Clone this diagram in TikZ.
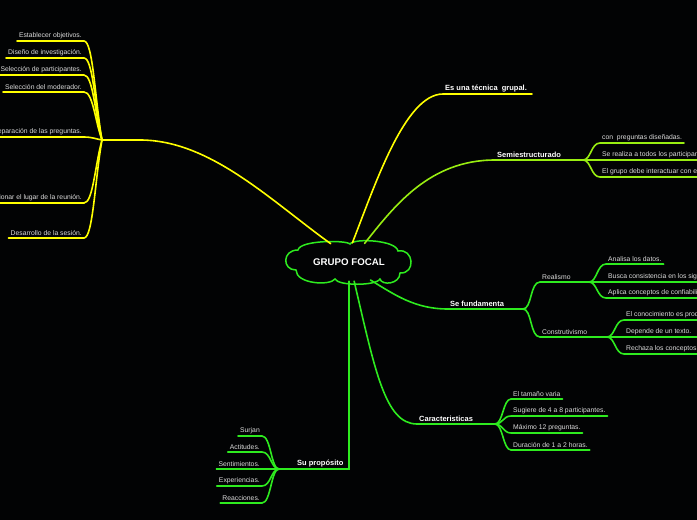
\documentclass[tikz,border=0pt]{standalone}
\usepackage{fontspec}
\setmainfont{Liberation Sans}
\usetikzlibrary{shapes.geometric, positioning}

\definecolor{fondo}{HTML}{020304}
\definecolor{amarillo}{HTML}{FFFF00}
\definecolor{lima}{HTML}{99EE11}
\definecolor{verde}{HTML}{2EEB1F}
\definecolor{texto}{HTML}{DCDCDC}

\begin{document}
\begin{tikzpicture}[
    x=1pt, y=-1pt,
    nube/.style={
        draw=verde,
        line width=1.5pt,
        fill=fondo
    },
    centro/.style={
        ellipse,
        minimum width=122pt,
        minimum height=38pt,
        inner sep=0pt,
        text=white,
        font=\bfseries\fontsize{9.7}{11}\selectfont
    },
    tema/.style={
        text=white,
        inner sep=2pt,
        font=\bfseries\fontsize{7.5}{9}\selectfont
    },
    hoja/.style={
        text=texto,
        inner sep=2pt,
        font=\fontsize{6.8}{8}\selectfont
    },
    rama/.style={line width=1.6pt, line cap=round}
]

\useasboundingbox (0,0) rectangle (697,520);
\fill[fondo] (0,0) rectangle (697,520);

% nodo central (nube dibujada a mano)
\draw[nube] (298,250) .. controls (300,240) and (346,240) .. (350,244)
    .. controls (354,238) and (396,240) .. (398,251)
    .. controls (414,248) and (416,274) .. (400,273)
    .. controls (400,284) and (382,286) .. (380,279)
    .. controls (376,286) and (338,286) .. (335,279)
    .. controls (330,286) and (296,284) .. (296,270)
    .. controls (282,270) and (282,250) .. cycle;
\node[centro] (gf) at (349,262) {GRUPO FOCAL};

% rama izquierda
\coordinate (hubI) at (102,140);
\node[hoja, anchor=south east] (i1) at (84,41) {Establecer objetivos.};
\node[hoja, anchor=south east] (i2) at (84,58) {Diseño de investigación.};
\node[hoja, anchor=south east] (i3) at (84,75) {Selección de participantes.};
\node[hoja, anchor=south east] (i4) at (84,92) {Selección del moderador.};
\node[hoja, anchor=south east] (i5) at (84,137) {Preparación de las preguntas.};
\node[hoja, anchor=south east] (i6) at (84,203) {Seleccionar el lugar de la reunión.};
\node[hoja, anchor=south east] (i7) at (84,238) {Desarrollo de la sesión.};

\draw[rama, amarillo] (gf.135) .. controls (270,200) and (210,140) .. (140,140) -- (hubI);
\draw[rama, amarillo] (hubI) .. controls (95,100) and (93,41) .. (i1.south east) -- (i1.south west);
\draw[rama, amarillo] (hubI) .. controls (95,107) and (93,58) .. (i2.south east) -- (i2.south west);
\draw[rama, amarillo] (hubI) .. controls (95,114) and (93,75) .. (i3.south east) -- (i3.south west);
\draw[rama, amarillo] (hubI) .. controls (95,121) and (93,92) .. (i4.south east) -- (i4.south west);
\draw[rama, amarillo] (hubI) .. controls (96,139) and (92,137) .. (i5.south east) -- (i5.south west);
\draw[rama, amarillo] (hubI) .. controls (95,165) and (93,203) .. (i6.south east) -- (i6.south west);
\draw[rama, amarillo] (hubI) .. controls (95,179) and (93,238) .. (i7.south east) -- (i7.south west);

% tecnica grupal
\node[tema, anchor=south west] (tec) at (443,94) {Es una técnica~ grupal.};
\draw[rama, amarillo] (gf.80) .. controls (375,185) and (405,94) .. (tec.south west) -- ([xshift=3pt]tec.south east);

% semiestructurado
\node[tema, anchor=south west] (semi) at (495,160) {Semiestructurado};
\coordinate (hubS) at (583,160);
\node[hoja, anchor=south west] (s1) at (600,143) {con~ preguntas diseñadas.};
\node[hoja, anchor=south west] (s2) at (600,160) {Se realiza a todos los participantes.};
\node[hoja, anchor=south west] (s3) at (600,177) {El grupo debe interactuar con el moderador.};

\draw[rama, lima] (gf.50) .. controls (395,205) and (430,160) .. (semi.south west) -- (hubS);
\draw[rama, lima] (hubS) .. controls (591,160) and (591,143) .. (s1.south west) -- (s1.south east);
\draw[rama, lima] (hubS) -- (s2.south west) -- (s2.south east);
\draw[rama, lima] (hubS) .. controls (591,160) and (591,177) .. (s3.south west) -- (s3.south east);

% se fundamenta
\node[tema, anchor=south west] (fund) at (448,309) {Se fundamenta};
\coordinate (hubF) at (523,309);
\node[hoja, anchor=south west] (real) at (540,282) {Realismo};
\coordinate (hubR) at (589,282);
\node[hoja, anchor=south west] (cons) at (540,337) {Construtivismo};
\coordinate (hubK) at (607,337);

\draw[rama, verde] (gf.-40) .. controls (395,295) and (415,309) .. (fund.south west) -- (hubF);
\draw[rama, verde] (hubF) .. controls (532,309) and (530,282) .. (real.south west) -- (hubR);
\draw[rama, verde] (hubF) .. controls (532,309) and (530,337) .. (cons.south west) -- (hubK);

\node[hoja, anchor=south west] (r1) at (606,264) {Analisa los datos.};
\node[hoja, anchor=south west] (r2) at (606,282) {Busca consistencia en los significados.};
\node[hoja, anchor=south west] (r3) at (606,298) {Aplica conceptos de confiabilidad.};
\draw[rama, verde] (hubR) .. controls (597,282) and (597,264) .. (r1.south west) -- (r1.south east);
\draw[rama, verde] (hubR) -- (r2.south west) -- (r2.south east);
\draw[rama, verde] (hubR) .. controls (597,282) and (597,298) .. (r3.south west) -- (r3.south east);

\node[hoja, anchor=south west] (k1) at (624,320) {El conocimiento es producido.};
\node[hoja, anchor=south west] (k2) at (624,337) {Depende de un texto.};
\node[hoja, anchor=south west] (k3) at (624,354) {Rechaza los conceptos de validez.};
\draw[rama, verde] (hubK) .. controls (615,337) and (615,320) .. (k1.south west) -- (k1.south east);
\draw[rama, verde] (hubK) -- (k2.south west) -- ([xshift=4pt]k2.south east);
\draw[rama, verde] (hubK) .. controls (615,337) and (615,354) .. (k3.south west) -- (k3.south east);

% caracteristicas
\node[tema, anchor=south west] (car) at (417,424) {Caracteristicas};
\coordinate (hubC) at (495,424);
\node[hoja, anchor=south west] (c1) at (511,399) {El tamaño varia};
\node[hoja, anchor=south west] (c2) at (511,416) {Sugiere de 4 a 8 participantes.};
\node[hoja, anchor=south west] (c3) at (511,433) {Máximo 12 preguntas.};
\node[hoja, anchor=south west] (c4) at (511,450) {Duración de 1 a 2 horas.};

\draw[rama, verde] (gf.-75) .. controls (375,370) and (385,424) .. (car.south west) -- (hubC);
\draw[rama, verde] (hubC) .. controls (503,424) and (503,399) .. (c1.south west) -- (c1.south east);
\draw[rama, verde] (hubC) .. controls (503,424) and (503,416) .. (c2.south west) -- (c2.south east);
\draw[rama, verde] (hubC) .. controls (503,424) and (503,433) .. (c3.south west) -- (c3.south east);
\draw[rama, verde] (hubC) .. controls (503,424) and (503,450) .. (c4.south west) -- (c4.south east);

% su proposito
\coordinate (hubP) at (279,469);
\node[tema, anchor=south west] (prop) at (295,469) {Su propósito};
\node[hoja, anchor=south east] (p1) at (262,436) {Surjan};
\node[hoja, anchor=south east] (p2) at (262,452) {Actitudes.};
\node[hoja, anchor=south east] (p3) at (262,469) {Sentimientos.};
\node[hoja, anchor=south east] (p4) at (262,486) {Experiencias.};
\node[hoja, anchor=south east] (p5) at (262,503) {Reacciones.};

\draw[rama, verde] (gf.south) |- (hubP);
\draw[rama, verde] (hubP) .. controls (271,469) and (271,436) .. (p1.south east) -- (p1.south west);
\draw[rama, verde] (hubP) .. controls (271,469) and (271,452) .. (p2.south east) -- (p2.south west);
\draw[rama, verde] (hubP) -- (p3.south east) -- (p3.south west);
\draw[rama, verde] (hubP) .. controls (271,469) and (271,486) .. (p4.south east) -- (p4.south west);
\draw[rama, verde] (hubP) .. controls (271,469) and (271,503) .. (p5.south east) -- (p5.south west);

\end{tikzpicture}
\end{document}
